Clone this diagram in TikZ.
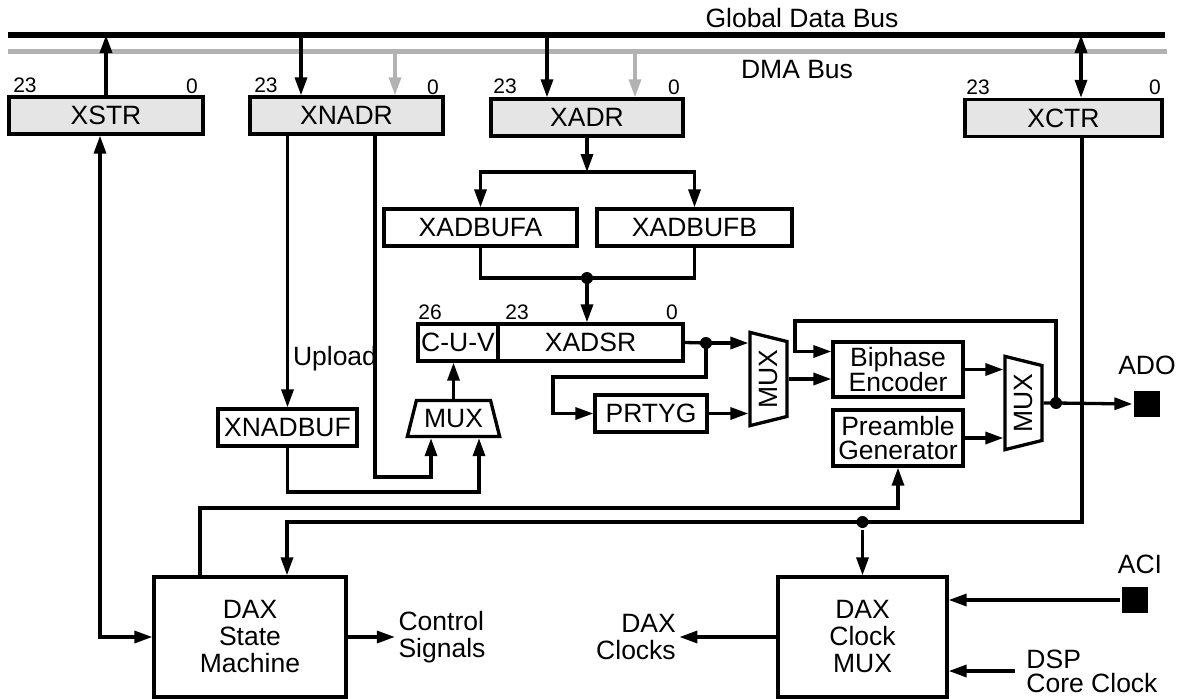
\documentclass[tikz,border=0pt]{standalone}
\usepackage{fontspec}
\setmainfont{Liberation Sans}
\usepackage{tikz}
\usetikzlibrary{shapes.geometric,arrows.meta,positioning}

\begin{document}
\begin{tikzpicture}[
    x=1pt, y=-1pt,
    font=\fontsize{26.5}{27}\selectfont,
    line width=3.3pt,
    >={Triangle[length=18pt,width=12pt]},
    box/.style={rectangle, draw, line width=3.3pt, inner sep=0pt, align=center, minimum height=37pt},
    reg/.style={box, fill=black!10},
    mux/.style={trapezium, draw, line width=3.3pt, trapezium left angle=70, trapezium right angle=70, trapezium stretches=true, inner sep=1pt, minimum width=93pt, minimum height=36pt},
    vmux/.style={mux, rotate=90, trapezium left angle=110, trapezium right angle=110, minimum width=94pt, minimum height=37pt},
    bits/.style={font=\fontsize{21}{21}\selectfont, inner sep=0pt},
    sig/.style={align=left, inner sep=2pt},
    pad/.style={rectangle, fill=black, minimum size=26pt, inner sep=0pt},
    junction/.style={circle, fill=black, minimum size=12pt, inner sep=0pt},
    arrow/.style={->, line width=3.3pt},
    gbus/.style={line width=5.5pt},
    dbus/.style={line width=5pt, draw=black!30}
]
    \useasboundingbox (0,0) rectangle (1179,699);

    % buses
    \coordinate (gbusL) at (8,35);
    \coordinate (gbusR) at (1165,35);
    \coordinate (dbusL) at (8,51);
    \coordinate (dbusR) at (1167,51);
    \draw [dbus] (dbusL) -- (dbusR);
    \draw [gbus] (gbusL) -- (gbusR);
    \node (gbuslabel) at (802,18) {Global Data Bus};
    \node (dbuslabel) at (797,70) {DMA Bus};

    % registers
    \node [reg, minimum width=194pt] (xstr) at (106,115.5) {XSTR};
    \node [reg, minimum width=193pt] (xnadr) at (346.5,115.5) {XNADR};
    \node [reg, minimum width=192pt] (xadr) at (587,117.5) {XADR};
    \node [reg, minimum width=197pt] (xctr) at (1063.5,118) {XCTR};
    \node [bits] (xstrhi) at (25,85) {23};
    \node [bits] (xstrlo) at (192,86) {0};
    \node [bits] (xnadrhi) at (266,85) {23};
    \node [bits] (xnadrlo) at (433,87) {0};
    \node [bits] (xadrhi) at (505,86) {23};
    \node [bits] (xadrlo) at (674,87) {0};
    \node [bits] (xctrhi) at (978,87) {23};
    \node [bits] (xctrlo) at (1155,87) {0};

    % address path
    \node [box, minimum width=193pt] (xadbufa) at (480.5,227.5) {XADBUFA};
    \node [box, minimum width=195pt] (xadbufb) at (694.5,227.5) {XADBUFB};
    \node [box, minimum width=80pt] (cuv) at (458,342.5) {C-U-V};
    \node [box, minimum width=185pt] (xadsr) at (590.5,342.5) {XADSR};
    \node [bits] (cuvhi) at (430,312) {26};
    \node [bits] (xadsrhi) at (517,312) {23};
    \node [bits] (xadsrlo) at (672,312) {0};
    \node [box, minimum width=112pt] (prtyg) at (651,413.5) {PRTYG};
    \node [box, minimum width=139pt] (xnadbuf) at (287.5,427.5) {XNADBUF};
    \node (upload) at (335,359) {Upload};
    \node [mux] (mux3) at (453.5,418.5) {MUX};

    % output stage
    \node [vmux] (mux1) at (768.5,379) {MUX};
    \node [box, minimum width=130pt, minimum height=55pt, font=\fontsize{26.5}{24}\selectfont] (biphase) at (898,369.5) {Biphase\\Encoder};
    \node [box, minimum width=130pt, minimum height=56pt, font=\fontsize{26.5}{24}\selectfont] (preamble) at (898,438) {Preamble\\Generator};
    \node [vmux] (mux2) at (1023.5,403) {MUX};
    \node [pad] (ado) at (1147,404) {};
    \node (adolabel) at (1147,365) {ADO};

    % control
    \node [box, minimum width=192pt, minimum height=120pt] (dsm) at (250,637) {DAX\\State\\Machine};
    \node [box, minimum width=169pt, minimum height=120pt] (dcm) at (862.5,637) {DAX\\Clock\\MUX};
    \node [sig] (ctlsig) at (442,637) {Control\\Signals};
    \node [sig, align=right] (daxclk) at (636,637) {DAX\\Clocks};
    \node [pad] (aci) at (1135,600) {};
    \node (acilabel) at (1140,564) {ACI};
    \node [sig, inner xsep=10pt, font=\fontsize{26.5}{24}\selectfont] (dsp) at (1092,671) {DSP\\Core Clock};

    % bus taps
    \coordinate (nadrtap) at (301,35);
    \coordinate (nadrdma) at (395,51);
    \coordinate (adrtap) at (547,35);
    \coordinate (adrdma) at (635,51);
    \coordinate (ctrtap) at (1081,35);
    \draw [arrow] (xstr.north) -- (xstr.north |- gbusL);
    \draw [arrow] (nadrtap) -- (nadrtap |- xnadr.north);
    \draw [arrow, color=black!30] (nadrdma) -- (nadrdma |- xnadr.north);
    \draw [arrow] (adrtap) -- (adrtap |- xadr.north);
    \draw [arrow, color=black!30] (adrdma) -- (adrdma |- xadr.north);
    \draw [arrow, <->] (ctrtap) -- (ctrtap |- xctr.north);

    % XADR to XADSR
    \coordinate (split) at (587,172);
    \coordinate (join) at (587,278);
    \draw [arrow] (xadr.south) -- (xadr.south |- split);
    \draw [arrow, <->] (xadbufa.north) |- (split) -| (xadbufb.north);
    \draw (xadbufa.south) |- (join) -| (xadbufb.south);
    \node [junction] (joindot) at (join) {};
    \draw [arrow] (join) -- (join |- xadsr.north);

    % XNADR to C-U-V
    \coordinate (uptap) at (375,477);
    \coordinate (buftap) at (479,492);
    \draw [arrow] (xnadbuf.north |- xnadr.south) -- (xnadbuf.north);
    \draw [arrow] (uptap |- xnadr.south) -- (uptap) -| ([xshift=-22.5pt]mux3.south);
    \draw [arrow] (xnadbuf.south) |- (buftap) -- (buftap |- mux3.south);
    \draw [arrow] (mux3.north) -- (mux3.north |- cuv.south);

    % XADSR to ADO
    \coordinate (dotA) at (706,343);
    \coordinate (pbend) at (553,377);
    \coordinate (dotB) at (1056,403);
    \coordinate (fbk) at (795,321);
    \draw (xadsr.east) -- (dotA);
    \draw [arrow] (dotA) -- (dotA -| mux1.north);
    \draw [arrow] (dotA) |- (pbend) |- (prtyg.west);
    \node [junction] (dotAn) at (dotA) {};
    \draw [arrow] (prtyg.east) -- (prtyg.east -| mux1.north);
    \draw [arrow] (mux1.south) -- (mux1.south -| biphase.west);
    \draw [arrow] (biphase.east) -- (biphase.east -| mux2.north);
    \draw [arrow] (preamble.east) -- (preamble.east -| mux2.north);
    \draw (mux2.south) -- (dotB);
    \draw [arrow] (dotB) |- (fbk) |- ([yshift=18pt]biphase.west);
    \node [junction] (dotBn) at (dotB) {};
    \draw [arrow] (dotB) -- (ado.west);

    % control lines
    \coordinate (strtap) at (100,0);
    \coordinate (ctrl) at (1082,522);
    \coordinate (smtap) at (287,522);
    \coordinate (pgtap) at (200,508);
    \draw [arrow, <->] (strtap |- xstr.south) |- (dsm.west);
    \draw [arrow] (ctrl |- xctr.south) -- (ctrl) -- (smtap) -- (smtap |- dsm.north);
    \node [junction] (dotC) at (dcm.north |- ctrl) {};
    \draw [arrow] (dotC) -- (dcm.north);
    \draw [arrow] (pgtap |- dsm.north) -- (pgtap) -| (preamble.south);
    \draw [arrow] (dsm.east) -- (ctlsig.west);
    \draw [arrow] (dcm.west) -- (daxclk.east);
    \draw [arrow] (aci.west) -- (aci.west -| dcm.east);
    \draw [arrow] (dsp.west) -- (dsp.west -| dcm.east);
\end{tikzpicture}
\end{document}
